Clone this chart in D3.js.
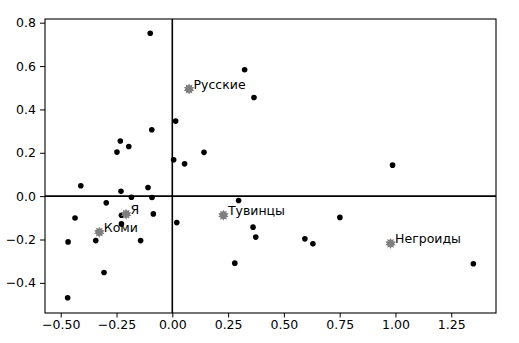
<!DOCTYPE html>
<html>
<head>
<meta charset="utf-8">
<script src="https://cdn.jsdelivr.net/npm/d3@7"></script>
<style>
  body { margin: 0; background: #fff; }
  svg text { font-family: "DejaVu Sans", sans-serif; }
</style>
</head>
<body>
<svg width="519" height="343"></svg>
<script>
// black dots
const dotX = [-0.099, 0.324, 0.366, 0.015, -0.092, -0.233, -0.195, -0.248, 0.142, 0.006,
  0.055, 0.987, -0.41, -0.109, -0.23, -0.183, -0.091, -0.296, 0.297, -0.436,
  -0.228, -0.085, 0.751, -0.228, 0.020, 0.362, 0.374, -0.467, -0.343, -0.142,
  0.594, 0.630, 0.280, -0.306, 1.349, -0.469];
const dotY = [0.751, 0.583, 0.455, 0.346, 0.306, 0.254, 0.229, 0.203, 0.202, 0.168,
  0.149, 0.143, 0.048, 0.040, 0.022, -0.005, -0.006, -0.031, -0.020, -0.101,
  -0.088, -0.082, -0.098, -0.128, -0.122, -0.143, -0.189, -0.211, -0.205, -0.205,
  -0.197, -0.220, -0.309, -0.352, -0.312, -0.469];

// labelled gray stars
const starNames = ['Русские', 'Я', 'Коми', 'Тувинцы', 'Негроиды'];
const starX = [0.075, -0.207, -0.327, 0.229, 0.978];
const starY = [0.494, -0.083, -0.166, -0.088, -0.218];

const xTicks = [-0.5, -0.25, 0, 0.25, 0.5, 0.75, 1.0, 1.25];
const yTicks = [-0.4, -0.2, 0.0, 0.2, 0.4, 0.6, 0.8];

const svg = d3.select('svg');
const margin = {left: 45, top: 19, right: 23, bottom: 30};
const width = +svg.attr('width');
const height = +svg.attr('height');
const innerWidth = width - margin.left - margin.right;
const innerHeight = height - margin.top - margin.bottom;

const xScale = d3.scaleLinear().domain([-0.5705, 1.4505]).range([0, innerWidth]);
const yScale = d3.scaleLinear().domain([-0.539, 0.817]).range([innerHeight, 0]);

const g = svg.append('g')
  .attr('transform', `translate(${margin.left},${margin.top})`);

const fmtX = d => d3.format('.2f')(d).replace('-', '\u2212');
const fmtY = d => d3.format('.1f')(d).replace('-', '\u2212');

const xAxis = g.append('g')
  .attr('transform', `translate(0,${innerHeight})`)
  .call(d3.axisBottom(xScale).tickValues(xTicks).tickFormat(fmtX).tickSize(4.5).tickPadding(3));
const yAxis = g.append('g')
  .call(d3.axisLeft(yScale).tickValues(yTicks).tickFormat(fmtY).tickSize(5).tickPadding(4));

[xAxis, yAxis].forEach(a => {
  a.select('.domain').remove();
  a.selectAll('text').attr('font-size', '12.5px').attr('fill', '#000')
    .attr('font-family', '"DejaVu Sans", sans-serif');
  a.selectAll('line').attr('stroke', '#000').attr('stroke-width', 1);
});

// frame
g.append('rect')
  .attr('width', innerWidth).attr('height', innerHeight)
  .attr('fill', 'none').attr('stroke', '#000').attr('stroke-width', 1.1);

// zero lines
g.append('line')
  .attr('x1', 0).attr('x2', innerWidth)
  .attr('y1', yScale(0)).attr('y2', yScale(0))
  .attr('stroke', '#000').attr('stroke-width', 1.6);
g.append('line')
  .attr('x1', xScale(0)).attr('x2', xScale(0))
  .attr('y1', 0).attr('y2', innerHeight)
  .attr('stroke', '#000').attr('stroke-width', 1.6);

// dots
g.selectAll('circle.dot').data(dotX)
  .enter().append('circle')
  .attr('class', 'dot')
  .attr('cx', d => xScale(d))
  .attr('cy', (d, i) => yScale(dotY[i]))
  .attr('r', 2.8)
  .attr('fill', '#000');

// sunburst-ish star marker
const burst = (r1, r2, n) => {
  const pts = [];
  for (let k = 0; k < n * 2; k++) {
    const r = k % 2 ? r2 : r1;
    const a = Math.PI * k / n - Math.PI / 2;
    pts.push([r * Math.cos(a), r * Math.sin(a)]);
  }
  return 'M' + pts.join('L') + 'Z';
};

const stars = g.selectAll('g.star').data(starNames)
  .enter().append('g')
  .attr('class', 'star')
  .attr('transform', (d, i) => `translate(${xScale(starX[i])},${yScale(starY[i])})`);

stars.append('path')
  .attr('d', burst(5.5, 3.6, 10))
  .attr('fill', '#7f7f7f');

stars.append('text')
  .attr('x', 4.5)
  .attr('y', 0)
  .attr('font-size', '12.5px')
  .attr('fill', '#000')
  .text(d => d);
</script>
</body>
</html>
